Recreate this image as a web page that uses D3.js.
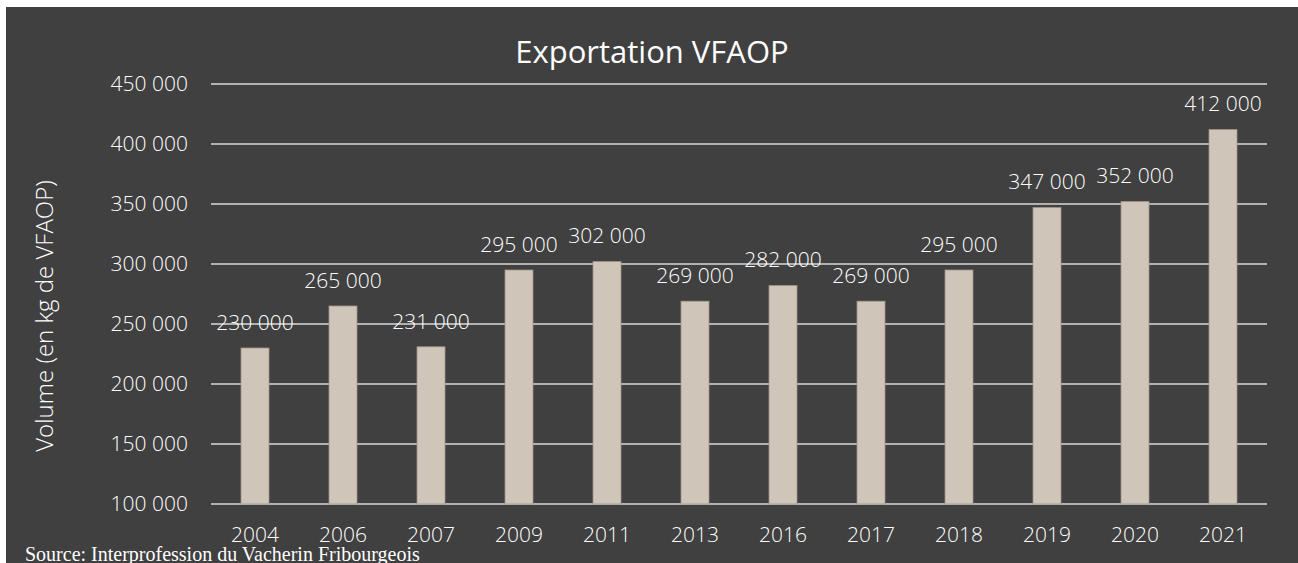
<!DOCTYPE html>
<html>
<head>
<meta charset="utf-8">
<script src="https://cdn.jsdelivr.net/npm/d3@7"></script>
<style>
  html, body { margin: 0; padding: 0; background: #ffffff; }
  svg { display: block; }
</style>
</head>
<body>
<svg id="chart" width="1298" height="563"></svg>
<script>
const years = ["2004","2006","2007","2009","2011","2013","2016","2017","2018","2019","2020","2021"];
const volumes = [230000,265000,231000,295000,302000,269000,282000,269000,295000,347000,352000,412000];
const yTicks = [100000,150000,200000,250000,300000,350000,400000,450000];
const titleText = "Exportation VFAOP";
const yTitle = "Volume (en kg de VFAOP)";
const sourceText = "Source: Interprofession du Vacherin Fribourgeois";

const W = 1298, H = 563;
const svg = d3.select("#chart");
const font = "'Open Sans', sans-serif";
const textColor = "#ffffff";
const fs = 21;
const fw = 300;

svg.append("rect").attr("x", 6).attr("y", 7).attr("width", W - 6).attr("height", H - 7).attr("fill", "#404040");

const x = d3.scaleBand().domain(years).range([211, 1267]).paddingInner(0.682).paddingOuter(0.341);
const y = d3.scaleLinear().domain([100000, 450000]).range([504, 84]);
const fmt = v => d3.format(",")(v).replace(/,/g, " ");

// gridlines
svg.append("g").selectAll("line").data(yTicks).join("line")
  .attr("x1", 211).attr("x2", 1267)
  .attr("y1", d => y(d)).attr("y2", d => y(d))
  .attr("stroke", "#d9d9d9").attr("stroke-width", 1.6);

// y tick labels
svg.append("g").selectAll("text").data(yTicks).join("text")
  .attr("x", 188).attr("y", d => y(d)).attr("dy", "0.35em")
  .attr("text-anchor", "end")
  .attr("font-family", font).attr("font-weight", fw).attr("font-size", fs)
  .attr("fill", textColor).text(d => fmt(d));

// bars
svg.append("g").selectAll("rect").data(volumes).join("rect")
  .attr("x", (d, i) => x(years[i]))
  .attr("width", x.bandwidth())
  .attr("y", d => y(d))
  .attr("height", d => y(100000) - y(d))
  .attr("fill", "#cfc5b9").attr("stroke", "#a0968b").attr("stroke-width", 0.8);

// data labels
svg.append("g").selectAll("text").data(volumes).join("text")
  .attr("x", (d, i) => x(years[i]) + x.bandwidth() / 2)
  .attr("y", d => y(d) - 25.5).attr("dy", "0.35em")
  .attr("text-anchor", "middle")
  .attr("font-family", font).attr("font-weight", fw).attr("font-size", fs)
  .attr("fill", textColor).text(d => fmt(d));

// x labels
svg.append("g").selectAll("text").data(years).join("text")
  .attr("x", d => x(d) + x.bandwidth() / 2)
  .attr("y", 535).attr("dy", "0.35em")
  .attr("text-anchor", "middle")
  .attr("font-family", font).attr("font-weight", fw).attr("font-size", fs)
  .attr("fill", textColor).text(d => d);

// title
svg.append("text").attr("x", 652).attr("y", 63).attr("text-anchor", "middle")
  .attr("font-family", font).attr("font-weight", 400).attr("font-size", 31)
  .attr("fill", "#ffffff").text(titleText);

// y axis title
svg.append("text")
  .attr("transform", "translate(45,316) rotate(-90)")
  .attr("text-anchor", "middle").attr("dy", "0.35em")
  .attr("font-family", font).attr("font-weight", fw).attr("font-size", 24)
  .attr("fill", textColor).text(yTitle);

// source
svg.append("text").attr("x", 25).attr("y", 561)
  .attr("font-family", "'Liberation Serif', serif").attr("font-size", 20)
  .attr("fill", "#ffffff").text(sourceText);
</script>
</body>
</html>
